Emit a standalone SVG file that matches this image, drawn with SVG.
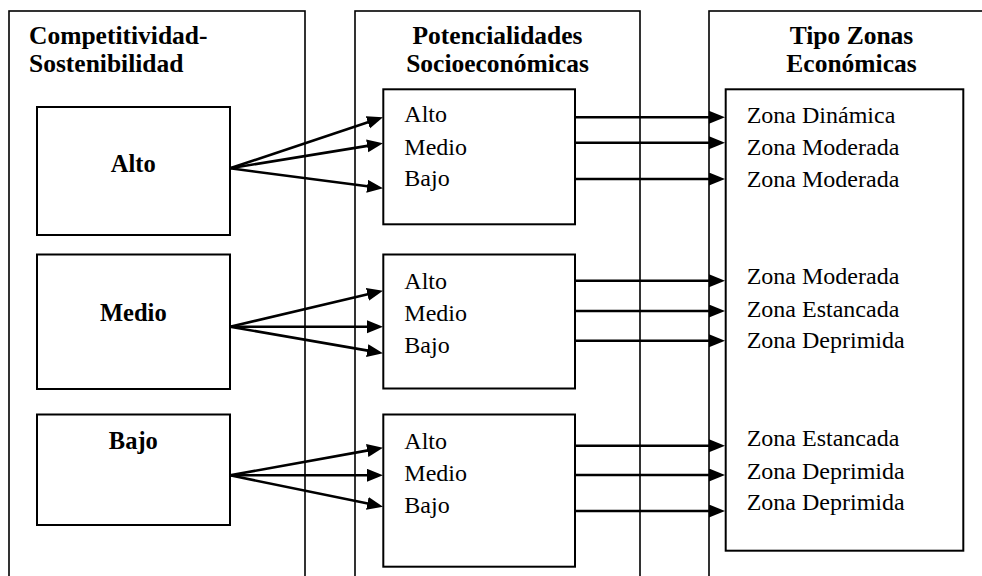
<svg xmlns="http://www.w3.org/2000/svg" width="982" height="576" viewBox="0 0 982 576">
<style>
.outer{fill:none;stroke:#000;stroke-width:1.6}
.inner{fill:#fff;stroke:#000;stroke-width:2}
.hd{font-family:"Liberation Serif","Times New Roman",serif;font-weight:bold;font-size:25.5px;fill:#000}
.bd{font-family:"Liberation Serif","Times New Roman",serif;font-weight:bold;font-size:24.5px;fill:#000;text-anchor:middle}
.tx{font-family:"Liberation Serif","Times New Roman",serif;font-size:24px;fill:#000}
.ar{stroke:#000;stroke-width:2.6;fill:none;marker-end:url(#ah)}
</style>
<defs>
<marker id="ah" markerUnits="userSpaceOnUse" markerWidth="17" markerHeight="14" refX="8" refY="6.5" orient="auto">
<path d="M0,0 L16,6.5 L0,13 z" fill="#000"/>
</marker>
</defs>
<rect width="982" height="576" fill="#fff"/>
<g id="col-competitividad">
<rect class="outer" x="9" y="11" width="296" height="600"/>
<text class="hd" x="29" y="44">Competitividad-</text>
<text class="hd" x="29" y="72">Sostenibilidad</text>
</g>
<g id="col-potencialidades">
<rect class="outer" x="355" y="11" width="285" height="600"/>
<text class="hd" x="497.5" y="43.5" text-anchor="middle">Potencialidades</text>
<text class="hd" x="497.5" y="72" text-anchor="middle">Socioeconómicas</text>
</g>
<g id="col-zonas">
<rect class="outer" x="709" y="11" width="300" height="600"/>
<text class="hd" x="851.5" y="44" text-anchor="middle">Tipo Zonas</text>
<text class="hd" x="851.5" y="72" text-anchor="middle">Económicas</text>
</g>
<g id="comp-alto">
<rect class="inner" x="37" y="107" width="193" height="128"/>
<text class="bd" x="133.3" y="171.7">Alto</text>
</g>
<g id="comp-medio">
<rect class="inner" x="37" y="254.5" width="193" height="134.5"/>
<text class="bd" x="133.3" y="320.7">Medio</text>
</g>
<g id="comp-bajo">
<rect class="inner" x="37" y="414.5" width="193" height="110.5"/>
<text class="bd" x="133.3" y="449">Bajo</text>
</g>
<g id="pot-1">
<rect class="inner" x="383.3" y="89.3" width="191.7" height="135"/>
<text class="tx" x="404.3" y="122.3">Alto</text>
<text class="tx" x="404.3" y="155">Medio</text>
<text class="tx" x="404.3" y="186">Bajo</text>
</g>
<g id="pot-2">
<rect class="inner" x="383.3" y="254.5" width="191.7" height="134"/>
<text class="tx" x="404.3" y="289">Alto</text>
<text class="tx" x="404.3" y="320.7">Medio</text>
<text class="tx" x="404.3" y="352.7">Bajo</text>
</g>
<g id="pot-3">
<rect class="inner" x="383.3" y="414.5" width="191.7" height="152.2"/>
<text class="tx" x="404.3" y="449">Alto</text>
<text class="tx" x="404.3" y="480.7">Medio</text>
<text class="tx" x="404.3" y="512.7">Bajo</text>
</g>
<g id="zonas-box">
<rect class="inner" x="725.7" y="89.3" width="237.6" height="461.4"/>
<text class="tx" x="746.7" y="122.7">Zona Dinámica</text>
<text class="tx" x="746.7" y="155">Zona Moderada</text>
<text class="tx" x="746.7" y="186.7">Zona Moderada</text>
<text class="tx" x="746.7" y="284.3">Zona Moderada</text>
<text class="tx" x="746.7" y="316.7">Zona Estancada</text>
<text class="tx" x="746.7" y="348.3">Zona Deprimida</text>
<text class="tx" x="746.7" y="445.7">Zona Estancada</text>
<text class="tx" x="746.7" y="479">Zona Deprimida</text>
<text class="tx" x="746.7" y="510">Zona Deprimida</text>
</g>
<g id="connectors">
<line class="ar" x1="230" y1="168.3" x2="375.4" y2="119.8"/>
<line class="ar" x1="230" y1="168.3" x2="375.1" y2="144.6"/>
<line class="ar" x1="230" y1="168.3" x2="375.1" y2="187.3"/>
<line class="ar" x1="230" y1="326.7" x2="375.2" y2="292.5"/>
<line class="ar" x1="230" y1="326.7" x2="375" y2="326.7"/>
<line class="ar" x1="230" y1="326.7" x2="375.1" y2="351.9"/>
<line class="ar" x1="230" y1="475.3" x2="375.1" y2="449.1"/>
<line class="ar" x1="230" y1="475.3" x2="375" y2="475.3"/>
<line class="ar" x1="230" y1="475.3" x2="375.2" y2="505.1"/>
<line class="ar" x1="575" y1="117.3" x2="717" y2="117.3"/>
<line class="ar" x1="575" y1="142.8" x2="717" y2="142.8"/>
<line class="ar" x1="575" y1="179" x2="717" y2="179"/>
<line class="ar" x1="575" y1="280.7" x2="717" y2="280.7"/>
<line class="ar" x1="575" y1="311" x2="717" y2="311"/>
<line class="ar" x1="575" y1="340.7" x2="717" y2="340.7"/>
<line class="ar" x1="575" y1="445.7" x2="717" y2="445.7"/>
<line class="ar" x1="575" y1="475" x2="717" y2="475"/>
<line class="ar" x1="575" y1="511" x2="717" y2="511"/>
</g>
</svg>
